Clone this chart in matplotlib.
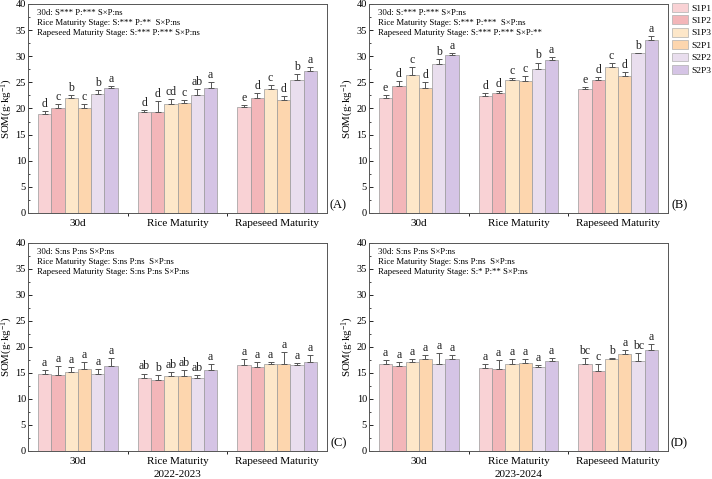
import matplotlib
matplotlib.use("Agg")
import matplotlib.pyplot as plt
import numpy as np
from matplotlib.patches import Patch
from matplotlib.ticker import MultipleLocator, FixedLocator

plt.rcParams['font.family'] = ['Liberation Serif', 'DejaVu Serif']
plt.rcParams['mathtext.fontset'] = 'custom'
plt.rcParams['mathtext.rm'] = 'Liberation Serif'
plt.rcParams['mathtext.it'] = 'Liberation Serif:italic'

stages = ["30d", "Rice Maturity", "Rapeseed Maturity"]
treatments = ["S1P1", "S1P2", "S1P3", "S2P1", "S2P2", "S2P3"]
colors = ["#F9D2D5", "#F3B6B9", "#FDE7C9", "#FDD6AE", "#E9DEEE", "#D5C4E5"]

# mean values [stage][treatment]
A_mean = [[18.9, 20.0, 22.0, 20.0, 22.7, 23.9],
          [19.3, 19.3, 20.8, 21.0, 22.5, 23.9],
          [20.3, 22.1, 23.8, 21.7, 25.4, 27.1]]
A_err = [[0.6, 0.8, 0.5, 0.9, 0.9, 0.4],
         [0.5, 2.1, 1.0, 0.6, 1.3, 1.2],
         [0.4, 0.8, 0.7, 0.6, 1.2, 0.8]]
A_let = [["d", "c", "b", "c", "b", "a"],
         ["d", "d", "cd", "c", "ab", "a"],
         ["e", "d", "c", "d", "b", "a"]]

B_mean = [[22.1, 24.4, 26.5, 24.0, 28.5, 30.3],
          [22.4, 22.9, 25.4, 25.2, 27.5, 29.2],
          [23.8, 25.4, 27.9, 26.3, 30.6, 33.1]]
B_err = [[0.5, 0.9, 1.4, 1.1, 1.0, 0.3],
         [0.5, 0.5, 0.5, 1.0, 1.3, 0.6],
         [0.4, 0.6, 0.8, 0.7, 0.1, 0.8]]
B_let = [["e", "d", "c", "d", "b", "a"],
         ["d", "d", "c", "c", "b", "a"],
         ["e", "d", "c", "d", "b", "a"]]

C_mean = [[14.8, 14.7, 15.2, 15.8, 14.8, 16.3],
          [14.1, 13.7, 14.5, 14.5, 14.1, 15.6],
          [16.5, 16.1, 16.8, 16.7, 16.5, 17.1]]
C_err = [[0.8, 1.7, 0.9, 1.4, 1.0, 1.6],
         [0.8, 1.0, 0.7, 1.1, 0.6, 1.1],
         [1.2, 1.0, 0.4, 2.4, 0.4, 1.4]]
C_let = [["a", "a", "a", "a", "a", "a"],
         ["ab", "b", "ab", "ab", "ab", "a"],
         ["a", "a", "a", "a", "a", "a"]]

D_mean = [[16.7, 16.3, 17.1, 17.7, 16.7, 17.7],
          [16.0, 15.8, 16.7, 16.9, 16.2, 17.3],
          [16.7, 15.4, 17.7, 18.7, 17.4, 19.4]]
D_err = [[0.8, 0.8, 0.6, 0.8, 2.1, 0.8],
         [0.7, 1.7, 0.9, 0.8, 0.3, 0.6],
         [1.2, 1.3, 0.1, 0.7, 1.5, 1.1]]
D_let = [["a", "a", "a", "a", "a", "a"],
         ["a", "a", "a", "a", "a", "a"],
         ["bc", "c", "b", "a", "bc", "a"]]

A_txt = ["30d: S*** P:*** S×P:ns",
         "Rice Maturity Stage: S:*** P:**  S×P:ns",
         "Rapeseed Maturity Stage: S:*** P:*** S×P:ns"]
B_txt = ["30d: S:*** P:*** S×P:ns",
         "Rice Maturity Stage: S:*** P:***  S×P:ns",
         "Rapeseed Maturity Stage: S:*** P:*** S×P:**"]
C_txt = ["30d: S:ns P:ns S×P:ns",
         "Rice Maturity Stage: S:ns P:ns  S×P:ns",
         "Rapeseed Maturity Stage: S:ns P:ns S×P:ns"]
D_txt = ["30d: S:ns P:ns S×P:ns",
         "Rice Maturity Stage: S:ns P:ns  S×P:ns",
         "Rapeseed Maturity Stage: S:* P:** S×P:ns"]

fig = plt.figure(figsize=(7.12, 4.79), dpi=100)
W, H = 712, 479
def rect(l, t, r, b):
    return [l / W, 1 - b / H, (r - l) / W, (b - t) / H]

axA = fig.add_axes(rect(28, 4, 327, 213))
axB = fig.add_axes(rect(369, 4, 668, 213))
axC = fig.add_axes(rect(28, 243, 327, 451))
axD = fig.add_axes(rect(369, 243, 668, 451))

bw = 0.8 / 6
x = np.arange(1, 4)

def draw(ax, mean, err, let, txt, tag, xlabel=None):
    mean = np.array(mean); err = np.array(err)
    for j in range(6):
        xs = x - 0.4 + bw * (j + 0.5)
        ax.bar(xs, mean[:, j], width=bw, color=colors[j], edgecolor="#9a9a9a",
               linewidth=0.5, zorder=2)
        ax.errorbar(xs, mean[:, j], yerr=[np.zeros(3), err[:, j]], fmt='none',
                    ecolor="#555555", elinewidth=0.7, capsize=2.2, capthick=0.7, zorder=3)
        for i in range(3):
            ax.text(xs[i], mean[i, j] + err[i, j] + 0.2, let[i][j], ha='center',
                    va='bottom', fontsize=8.5, color="#222222")
    ax.set_xlim(0.5, 3.5)
    ax.set_ylim(0, 40)
    ax.yaxis.set_major_locator(MultipleLocator(5))
    ax.yaxis.set_minor_locator(MultipleLocator(2.5))
    ax.tick_params(axis='y', which='major', direction='in', length=3, width=0.6,
                   labelsize=7.5, pad=1.5)
    ax.tick_params(axis='y', which='minor', direction='in', length=1.5, width=0.5)
    ax.set_xticks(x)
    ax.set_xticklabels(stages, fontsize=8)
    ax.xaxis.set_minor_locator(FixedLocator([1.5, 2.5]))
    ax.tick_params(axis='x', which='major', length=0, pad=4)
    ax.tick_params(axis='x', which='minor', direction='out', length=2, width=0.6)
    for s in ax.spines.values():
        s.set_linewidth(0.7)
        s.set_color("#555555")
    ax.set_ylabel("SOM(g·kg$^{-1}$)", fontsize=7.8)
    ax.yaxis.set_label_coords(-0.042, 0.5)
    for k, t in enumerate(txt):
        ax.text(0.03, 0.958 - k * 0.048, t, transform=ax.transAxes, fontsize=6.3,
                ha='left', va='center')
    ax.text(1.038, 0.035, tag, transform=ax.transAxes, fontsize=9,
            ha='center', va='center')
    if xlabel:
        ax.text(0.5, -0.114, xlabel, transform=ax.transAxes, fontsize=8,
                ha='center', va='center')

draw(axA, A_mean, A_err, A_let, A_txt, "(A)")
draw(axB, B_mean, B_err, B_let, B_txt, "(B)")
draw(axC, C_mean, C_err, C_let, C_txt, "(C)", "2022-2023")
draw(axD, D_mean, D_err, D_let, D_txt, "(D)", "2023-2024")

handles = [Patch(facecolor=c, edgecolor="#b0b0b0", linewidth=0.5) for c in colors]
fig.legend(handles, treatments, loc='upper left', bbox_to_anchor=(671 / W, 1 - 2 / H),
           frameon=False, fontsize=6.8, handlelength=1.75, handleheight=1.05,
           labelspacing=0.3, handletextpad=0.3, borderaxespad=0, borderpad=0.1)

fig.savefig("out.png", dpi=100)
